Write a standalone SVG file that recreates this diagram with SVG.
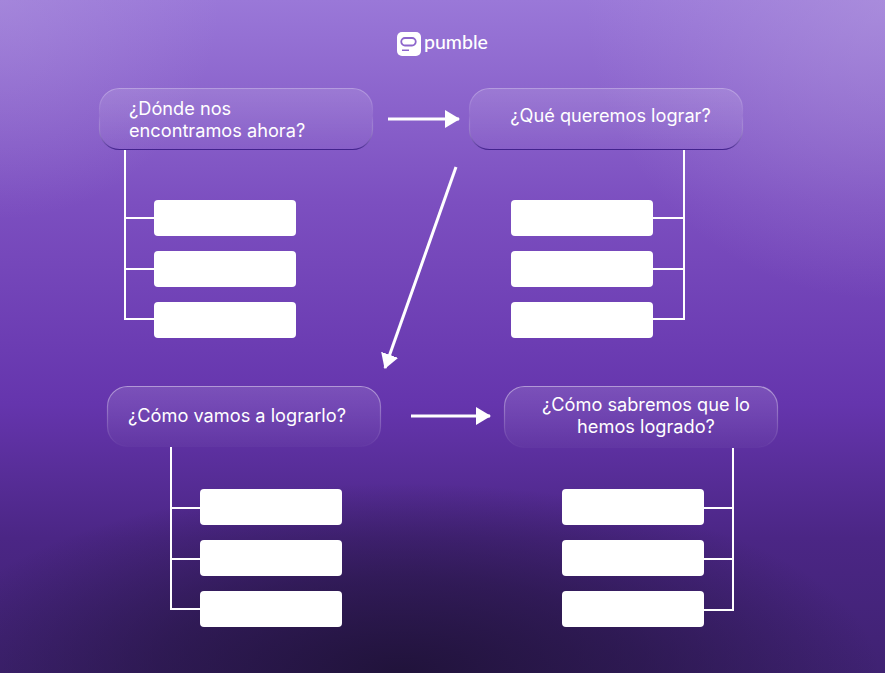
<svg xmlns="http://www.w3.org/2000/svg" width="885" height="673" viewBox="0 0 885 673">
<style>
.n{stroke-width:1.2}
.t{font-family:Inter,"Liberation Sans",sans-serif;font-size:18.200px;fill:#fff;font-weight:400}
.w{fill:#fff}
.c{fill:none;stroke:#fff;stroke-width:2}
.a{fill:none;stroke:#fff;stroke-width:3}
</style>
<defs>
<linearGradient id="bg" x1="0" y1="0" x2="0" y2="1">
<stop offset="0" stop-color="#9a78d8"/>
<stop offset=".3" stop-color="#7c4fc0"/>
<stop offset=".6" stop-color="#6535ad"/>
<stop offset=".8" stop-color="#4b2685"/>
<stop offset="1" stop-color="#3f2272"/>
</linearGradient>
<radialGradient id="dark" gradientUnits="userSpaceOnUse" cx="400" cy="673" r="1" gradientTransform="translate(400 673) scale(480 190) translate(-400 -673)">
<stop offset="0" stop-color="#1f1238" stop-opacity=".95"/>
<stop offset=".5" stop-color="#1f1238" stop-opacity=".55"/>
<stop offset="1" stop-color="#1f1238" stop-opacity="0"/>
</radialGradient>
<radialGradient id="tl" gradientUnits="userSpaceOnUse" cx="885" cy="0" r="300">
<stop offset="0" stop-color="#b79fe0" stop-opacity=".5"/>
<stop offset="1" stop-color="#b79fe0" stop-opacity="0"/>
</radialGradient>
<radialGradient id="tl2" gradientUnits="userSpaceOnUse" cx="0" cy="0" r="220">
<stop offset="0" stop-color="#b79fe0" stop-opacity=".35"/>
<stop offset="1" stop-color="#b79fe0" stop-opacity="0"/>
</radialGradient>
<linearGradient id="box" x1="0" y1="0" x2="0" y2="1">
<stop offset="0" stop-color="#fff" stop-opacity=".13"/>
<stop offset="1" stop-color="#fff" stop-opacity=".03"/>
</linearGradient>
<linearGradient id="edgeA" x1="0" y1="0" x2="0" y2="1">
<stop offset="0" stop-color="#fff" stop-opacity=".3"/>
<stop offset=".45" stop-color="#fff" stop-opacity=".03"/>
<stop offset="1" stop-color="#3f1f8a" stop-opacity=".95"/>
</linearGradient>
<linearGradient id="edgeB" x1="0" y1="0" x2="0" y2="1">
<stop offset="0" stop-color="#fff" stop-opacity=".45"/>
<stop offset="1" stop-color="#fff" stop-opacity=".02"/>
</linearGradient>
<marker id="ah" viewBox="0 0 15 18" refX="14" refY="9" markerWidth="15" markerHeight="18" markerUnits="userSpaceOnUse" orient="auto"><path d="M0 0L15 9L0 18Z" fill="#fff"/></marker>
</defs>
<rect width="885" height="673" fill="url(#bg)"/>
<rect width="885" height="673" fill="url(#tl)"/>
<rect width="885" height="673" fill="url(#tl2)"/>
<rect width="885" height="673" fill="url(#dark)"/>
<g id="logo">
<rect x="397" y="32" width="24" height="24" rx="5" class="w"/>
<path d="M405 38h7a3.500 3.500 0 0 1 0 7.500h-7a3.500 3.500 0 0 1 0-7.500z" fill="none" stroke="#8d66cc" stroke-width="1.800"/>
<rect x="402" y="49.500" width="7" height="1.500" fill="#8d66cc"/>
<text x="424" y="49" style="font-family:Lato,'Liberation Sans',sans-serif;font-size:19.500px;font-weight:500;fill:#fff">pumble</text>
</g>
<g id="connectors">
<path class="c" d="M125 150V319H154M125 218H154M125 269H154"/>
<path class="c" d="M684 150V319H653M684 218H653M684 269H653"/>
<path class="c" d="M171 447V609H200M171 508H200M171 559H200"/>
<path class="c" d="M733 448V610H704M733 508H704M733 559H704"/>
<path class="a" d="M388 119H459" marker-end="url(#ah)"/>
<path class="a" d="M456 167L385 368" marker-end="url(#ah)"/>
<path class="a" d="M411 416H490" marker-end="url(#ah)"/>
</g>
<g id="node-1"><rect class="n" x="99.500" y="88.500" width="273" height="61" rx="20" fill="url(#box)" stroke="url(#edgeA)"/>
<text class="t" x="129" y="115">¿Dónde nos</text><text class="t" x="129" y="137">encontramos ahora?</text></g>
<g id="node-2"><rect class="n" x="469.500" y="88.500" width="273" height="61" rx="20" fill="url(#box)" stroke="url(#edgeA)"/>
<text class="t" x="610.500" y="122" text-anchor="middle">¿Qué queremos lograr?</text></g>
<g id="node-3"><rect class="n" x="107.500" y="386.500" width="273" height="60" rx="20" fill="url(#box)" stroke="url(#edgeB)"/>
<text class="t" x="237" y="422" text-anchor="middle">¿Cómo vamos a lograrlo?</text></g>
<g id="node-4"><rect class="n" x="504.500" y="386.500" width="273" height="61" rx="20" fill="url(#box)" stroke="url(#edgeB)"/>
<text class="t" x="646" y="411" text-anchor="middle">¿Cómo sabremos que lo</text><text class="t" x="646" y="433" text-anchor="middle">hemos logrado?</text></g>
<g id="box-1a"><rect class="w" x="154" y="200" width="142" height="36" rx="4"/></g>
<g id="box-1b"><rect class="w" x="154" y="251" width="142" height="36" rx="4"/></g>
<g id="box-1c"><rect class="w" x="154" y="302" width="142" height="36" rx="4"/></g>
<g id="box-2a"><rect class="w" x="511" y="200" width="142" height="36" rx="4"/></g>
<g id="box-2b"><rect class="w" x="511" y="251" width="142" height="36" rx="4"/></g>
<g id="box-2c"><rect class="w" x="511" y="302" width="142" height="36" rx="4"/></g>
<g id="box-3a"><rect class="w" x="200" y="489" width="142" height="36" rx="4"/></g>
<g id="box-3b"><rect class="w" x="200" y="540" width="142" height="36" rx="4"/></g>
<g id="box-3c"><rect class="w" x="200" y="591" width="142" height="36" rx="4"/></g>
<g id="box-4a"><rect class="w" x="562" y="489" width="142" height="36" rx="4"/></g>
<g id="box-4b"><rect class="w" x="562" y="540" width="142" height="36" rx="4"/></g>
<g id="box-4c"><rect class="w" x="562" y="591" width="142" height="36" rx="4"/></g>
</svg>
